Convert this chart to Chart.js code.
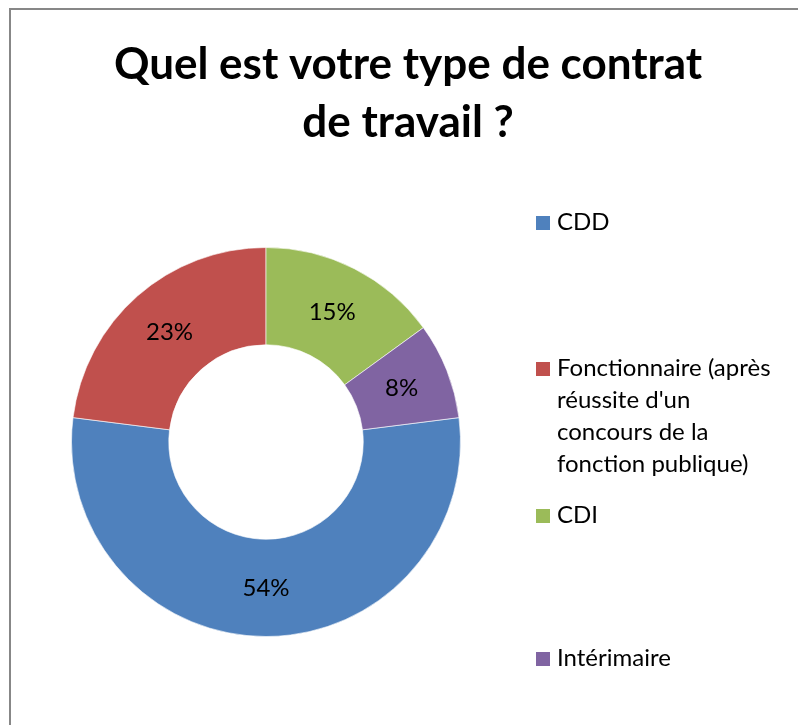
<!DOCTYPE html>
<html>
<head>
<meta charset="utf-8">
<script src="https://cdn.jsdelivr.net/npm/chart.js@4.4.1/dist/chart.umd.min.js"></script>
<style>
  html, body { margin: 0; padding: 0; background: #fff; }
  #wrap { width: 798px; height: 725px; }
</style>
</head>
<body>
<div id="wrap"><canvas id="chart_contrat" width="798" height="725"></canvas></div>
<script>
// Donnees du graphique
var titre = ['Quel est votre type de contrat', 'de travail ?'];
var categories = [
    ['CDD'],
    ['Fonctionnaire (après', "réussite d'un", 'concours de la', 'fonction publique)'],
    ['CDI'],
    ['Intérimaire']
];
var valeurs = [54, 23, 15, 8];
var couleurs = ['#4F81BD', '#C0504D', '#9BBB59', '#8064A2'];

// position verticale (ligne de base) de chaque entree de la legende
var legendeY = [230, 376, 523, 666];
var policeTexte = 'Lato, "Noto Sans", sans-serif';

var total = valeurs.reduce(function (a, b) { return a + b; }, 0);

var decor = {
    id: 'decor',
    beforeDraw: function (chart) {
        var ctx = chart.ctx;
        ctx.save();
        ctx.fillStyle = '#ffffff';
        ctx.fillRect(0, 0, chart.width, chart.height);
        ctx.strokeStyle = '#878787';
        ctx.lineWidth = 2;
        ctx.strokeRect(10, 9, 1000, 1000);
        ctx.restore();
    },
    afterDatasetsDraw: function (chart) {
        // pourcentages sur les secteurs
        var ctx = chart.ctx;
        var meta = chart.getDatasetMeta(0);
        ctx.save();
        ctx.fillStyle = '#000000';
        ctx.font = '24px ' + policeTexte;
        ctx.textAlign = 'center';
        ctx.textBaseline = 'middle';
        meta.data.forEach(function (arc, i) {
            var p = arc.tooltipPosition();
            ctx.fillText(Math.round(valeurs[i] / total * 100) + '%', p.x, p.y);
        });
        ctx.restore();
    },
    afterDraw: function (chart) {
        var ctx = chart.ctx;
        ctx.save();
        // titre
        ctx.fillStyle = '#000000';
        ctx.font = 'bold 44px ' + policeTexte;
        ctx.textAlign = 'center';
        ctx.textBaseline = 'alphabetic';
        ctx.fillText(titre[0], 408, 79);
        ctx.fillText(titre[1], 408, 137);
        // legende
        ctx.textAlign = 'left';
        ctx.font = '24px ' + policeTexte;
        categories.forEach(function (lignes, i) {
            var y = legendeY[i];
            ctx.fillStyle = couleurs[i];
            ctx.fillRect(536, y - 14, 14, 14);
            ctx.fillStyle = '#000000';
            lignes.forEach(function (l, k) {
                ctx.fillText(l, 557, y + k * 32);
            });
        });
        ctx.restore();
    }
};

var config_contrat = {
    type: 'doughnut',
    data: {
        labels: categories,
        datasets: [{
            data: valeurs,
            backgroundColor: couleurs,
            borderColor: 'rgba(255,255,255,0.6)',
            borderWidth: 1
        }]
    },
    options: {
        responsive: false,
        animation: false,
        cutout: '50%',
        rotation: 360 * (valeurs[2] + valeurs[3]) / total,
        layout: {
            padding: { left: 71, top: 247, right: 337, bottom: 88 }
        },
        plugins: {
            legend: { display: false },
            title: { display: false },
            tooltip: { enabled: false }
        }
    },
    plugins: [decor]
};

var canvas_contrat = document.getElementById('chart_contrat');
var chart_contrat = new Chart(canvas_contrat, config_contrat);
</script>
</body>
</html>
